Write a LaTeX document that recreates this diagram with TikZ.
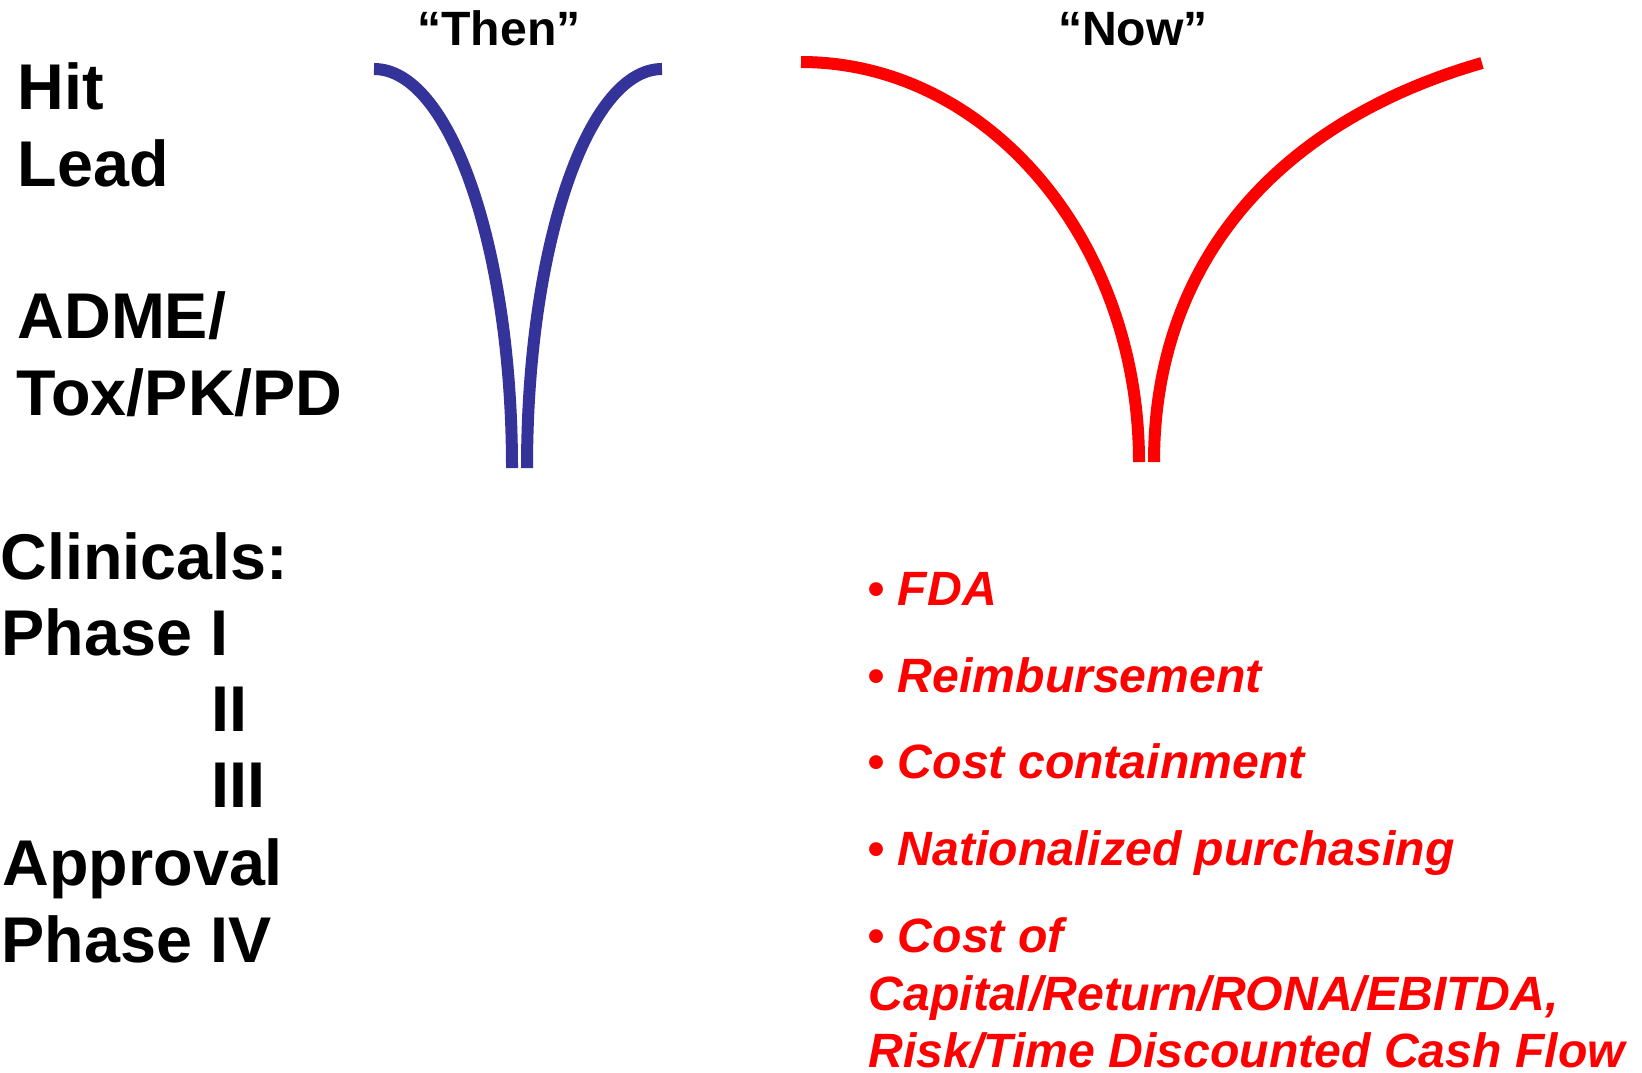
\documentclass[tikz,border=0pt]{standalone}
\usepackage{fontspec}
\setmainfont{Liberation Sans}
\usepackage{xcolor}
\usepackage{tikz}
\usetikzlibrary{positioning}
\definecolor{thenblue}{RGB}{51,51,153}
\definecolor{nowred}{RGB}{255,0,0}
\newcommand{\stagefont}{\fontsize{18.4}{22}\selectfont\bfseries}
\newcommand{\headfont}{\fontsize{13.7}{16.4}\selectfont\bfseries}
\newcommand{\itemfont}{\fontsize{13.7}{16.4}\selectfont\bfseries\itshape}

\begin{document}
\begin{tikzpicture}[x=0.1mm, y=-0.1mm,
  stage/.style={anchor=base west, inner sep=0pt, font=\stagefont},
  head/.style={anchor=base, inner sep=0pt, font=\headfont},
  item/.style={anchor=base west, inner sep=0pt, font=\itemfont, text=nowred},
  funnel/.style={line width=1.2mm, line cap=butt}]
  \useasboundingbox (0,0) rectangle (1642,1072);

  % Stages, left column
  \node[stage] (hit)   at (17,109)  {Hit};
  \node[stage] (lead)  at (17,186)  {Lead};
  \node[stage] (adme)  at (17,338)  {ADME/};
  \node[stage] (tox)   at (16,415)  {Tox/PK/PD};
  \node[stage] (clin)  at (0,579)   {Clinicals:};
  \node[stage] (ph1)   at (1,655)   {Phase I};
  \node[stage] (ph2)   at (211,731) {II};
  \node[stage] (ph3)   at (211,807) {III};
  \node[stage] (appr)  at (2,885)   {Approval};
  \node[stage] (ph4)   at (1,962)   {Phase IV};

  % Headings
  \node[head] (then) at (499,45)  {“Then”};
  \node[head] (now)  at (1133,45) {“Now”};

  % "Then" funnel --- narrow
  \coordinate (then-tl) at (374,69);
  \coordinate (then-bl) at (512,468);
  \coordinate (then-br) at (527,468);
  \coordinate (then-tr) at (662,69);
  \draw[funnel, thenblue] (then-tl) .. controls +(76,0) and +(0,-220) .. (then-bl);
  \draw[funnel, thenblue] (then-br) .. controls +(0,-220) and +(-75,0) .. (then-tr);

  % "Now" funnel --- wide
  \coordinate (now-tl) at (801,62);
  \coordinate (now-bl) at (1139,462);
  \coordinate (now-br) at (1154,462);
  \coordinate (now-tr) at (1482,63);
  \draw[funnel, nowred] (now-tl) .. controls +(187,0) and +(0,-221) .. (now-bl);
  \draw[funnel, nowred] (now-br) .. controls +(0,-202) and +(-202,58) .. (now-tr);

  % Pressures of today
  \foreach \txt/\y [count=\i] in {FDA/605, Reimbursement/692,
      Cost containment/778, Nationalized purchasing/865, Cost of/952} {
    \node[item] (item\i) at (867,\y) {• \txt};
  }
  \node[item] (item5b) at (868,1010) {Capital/Return/RONA/EBITDA,};
  \node[item] (item5c) at (868,1067) {Risk/Time Discounted Cash Flow};
\end{tikzpicture}
\end{document}
